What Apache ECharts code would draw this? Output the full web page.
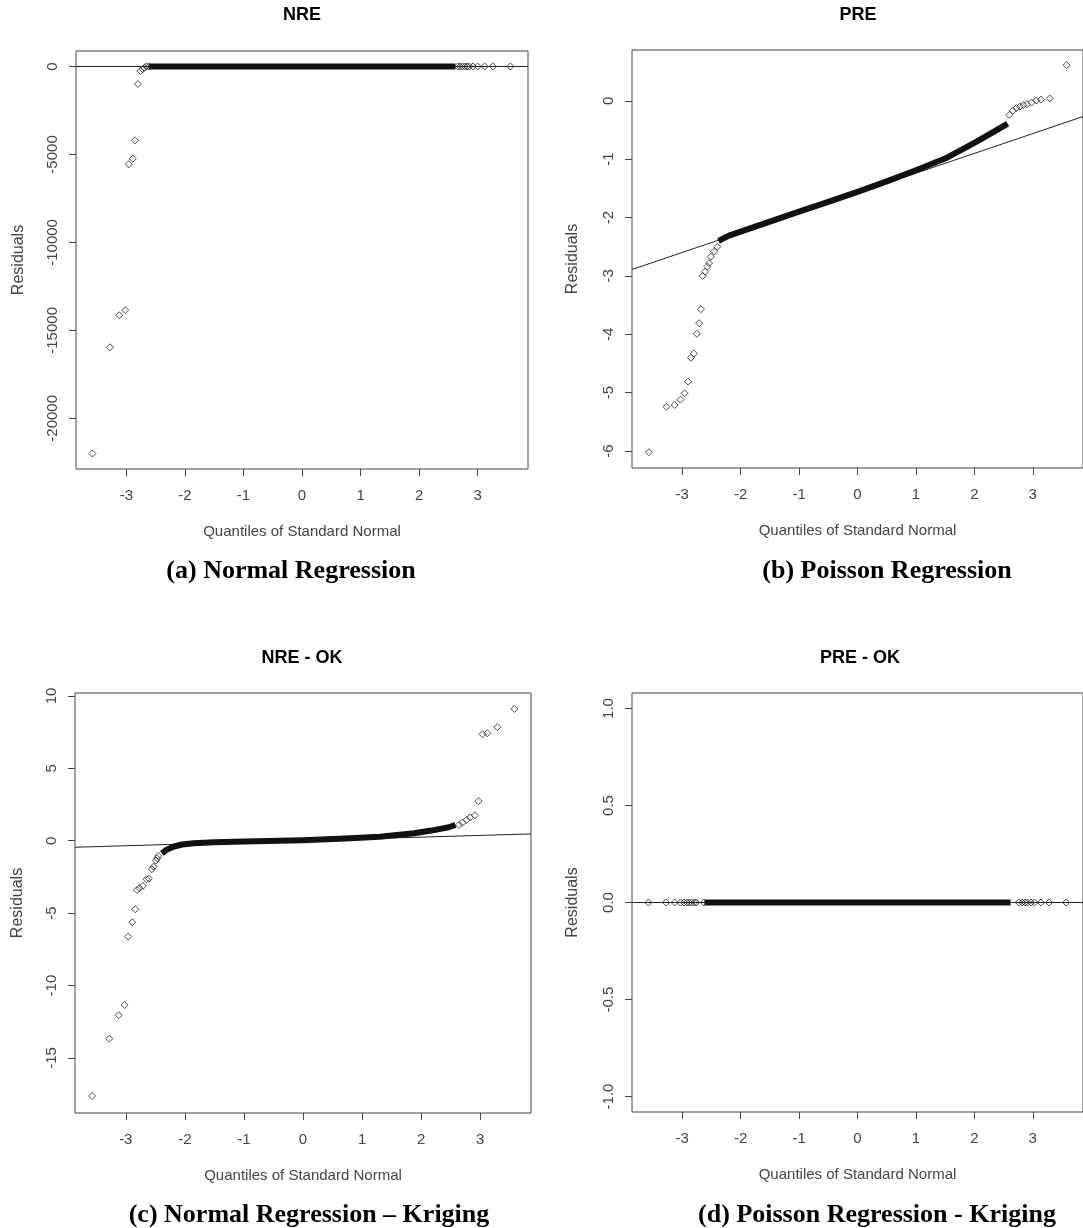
<!DOCTYPE html>
<html>
<head>
<meta charset="utf-8">
<title>Q-Q plots of residuals</title>
<script src="https://cdn.jsdelivr.net/npm/echarts@6/dist/echarts.min.js"></script>
<style>
  html, body { margin: 0; padding: 0; background: #fff; overflow: hidden; }
  #chart { width: 1083px; height: 1228px; }
</style>
</head>
<body>
<div id="chart"></div>
<script>
// (a) NRE - outlying points, dense band, qq reference line
const nreQ = [-3.58, -3.28, -3.12, -3.02, -2.96, -2.89, -2.85, -2.80, -2.76, -2.72, -2.69, -2.66, -2.62,
  2.66, 2.70, 2.74, 2.78, 2.82, 2.86, 2.92, 3.00, 3.12, 3.26, 3.56]
const nreR = [-22000, -15960, -14140, -13850, -5560, -5240, -4200, -1000, -257, -160, -68, 0, 0,
  0, 0, 0, 0, 0, 0, 0, 0, 0, 0, 0]
const nreBandQ = [-2.62, 2.62]
const nreBandR = [0, 0]
const nreLineQ = [-3.86, 3.86]
const nreLineR = [0, 0]

// (b) PRE
const preQ = [-3.57, -3.27, -3.13, -3.03, -2.96, -2.90, -2.85, -2.80, -2.75, -2.71, -2.68, -2.65, -2.61,
  -2.57, -2.54, -2.51, -2.45, -2.40, 2.60, 2.66, 2.72, 2.78, 2.84, 2.90, 2.98, 3.06, 3.14, 3.29, 3.58]
const preR = [-6.02, -5.24, -5.21, -5.12, -5.01, -4.81, -4.40, -4.33, -3.99, -3.81, -3.57, -3.00, -2.93,
  -2.84, -2.78, -2.67, -2.58, -2.50, -0.24, -0.17, -0.125, -0.10, -0.075, -0.057, -0.03, 0.005, 0.02, 0.04, 0.61]
const preBandQ = [-2.38, -2.2, -2.0, -1.5, -1.0, -0.5, 0, 0.5, 1.0, 1.5, 2.0, 2.3, 2.57]
const preBandR = [-2.40, -2.31, -2.24, -2.07, -1.90, -1.73, -1.56, -1.38, -1.19, -0.99, -0.72, -0.55, -0.39]
const preLineQ = [-3.86, 3.86]
const preLineR = [-2.89, -0.27]

// (c) NRE - OK
const nreOkQ = [-3.57, -3.28, -3.12, -3.02, -2.96, -2.89, -2.84, -2.81, -2.77, -2.71, -2.65, -2.61, -2.56,
  -2.53, -2.49, -2.47, -2.45, 2.64, 2.70, 2.77, 2.83, 2.91, 2.97, 3.04, 3.12, 3.29, 3.58]
const nreOkR = [-17.62, -13.67, -12.05, -11.34, -6.62, -5.63, -4.73, -3.40, -3.28, -3.12, -2.66, -2.62, -1.97,
  -1.79, -1.37, -1.21, -1.05, 1.09, 1.25, 1.44, 1.61, 1.76, 2.73, 7.35, 7.42, 7.84, 9.10]
const nreOkBandQ = [-2.39, -2.30, -2.18, -2.05, -1.85, -1.5, -1.0, 0, 0.71, 1.30, 1.88, 2.17, 2.47, 2.58]
const nreOkBandR = [-0.87, -0.60, -0.40, -0.26, -0.17, -0.11, -0.06, 0.03, 0.15, 0.28, 0.52, 0.70, 0.93, 1.09]
const nreOkLineQ = [-3.86, 3.86]
const nreOkLineR = [-0.45, 0.47]

// (d) PRE - OK
const preOkQ = [-3.58, -3.28, -3.13, -3.03, -2.97, -2.92, -2.88, -2.84, -2.79, -2.76, -2.63,
  2.76, 2.82, 2.87, 2.91, 2.97, 3.03, 3.14, 3.28, 3.57]
const preOkR = [0, 0, 0, 0, 0, 0, 0, 0, 0, 0, 0, 0, 0, 0, 0, 0, 0, 0, 0, 0]
const preOkBandQ = [-2.62, 2.62]
const preOkBandR = [0, 0]
const preOkLineQ = [-3.86, 3.86]
const preOkLineR = [0, 0]

// axis ticks
const qTicks = [-3, -2, -1, 0, 1, 2, 3]
const nreTicks = [-20000, -15000, -10000, -5000, 0]
const preTicks = [-6, -5, -4, -3, -2, -1, 0]
const nreOkTicks = [-15, -10, -5, 0, 5, 10]
const preOkTicks = [-1, -0.5, 0, 0.5, 1]

const titles = ['NRE', 'PRE', 'NRE - OK', 'PRE - OK']
const captions = ['(a) Normal Regression', '(b) Poisson Regression',
  '(c) Normal Regression \u2013 Kriging', '(d) Poisson Regression - Kriging']

const zip = (a, b) => a.map((v, i) => [v, b[i]])

const SANS = '"Liberation Sans", Arial, Helvetica, sans-serif'
const SERIF = '"Liberation Serif", "Times New Roman", serif'
const INK = '#444'

const panels = [
  { grid: { left: 76, top: 51, width: 452, height: 418 }, yRange: [-22880, 880], yTicks: nreTicks,
    fmt: v => String(v), pts: zip(nreQ, nreR), band: zip(nreBandQ, nreBandR), line: zip(nreLineQ, nreLineR),
    titleAt: [302, 15], capAt: [291, 571], nameGap: 49 },
  { grid: { left: 632, top: 50, width: 456, height: 418 }, yRange: [-6.29, 0.87], yTicks: preTicks,
    fmt: v => String(v), pts: zip(preQ, preR), band: zip(preBandQ, preBandR), line: zip(preLineQ, preLineR),
    titleAt: [858, 15], capAt: [887, 571], nameGap: 51 },
  { grid: { left: 75, top: 693, width: 456, height: 420 }, yRange: [-18.8, 10.2], yTicks: nreOkTicks,
    fmt: v => String(v), pts: zip(nreOkQ, nreOkR), band: zip(nreOkBandQ, nreOkBandR), line: zip(nreOkLineQ, nreOkLineR),
    titleAt: [302, 658], capAt: [309, 1215], nameGap: 49 },
  { grid: { left: 632, top: 693, width: 456, height: 419 }, yRange: [-1.08, 1.08], yTicks: preOkTicks,
    fmt: v => v.toFixed(1), pts: zip(preOkQ, preOkR), band: zip(preOkBandQ, preOkBandR), line: zip(preOkLineQ, preOkLineR),
    titleAt: [860, 658], capAt: [877, 1215], nameGap: 51 }
]

const textStyle = { color: INK, fontSize: 15, fontFamily: SANS }

const option = {
  animation: false,
  backgroundColor: '#fff',
  grid: panels.map(p => ({ ...p.grid, show: true, borderColor: INK, borderWidth: 1, backgroundColor: 'transparent' })),
  xAxis: panels.map((p, i) => ({
    gridIndex: i,
    type: 'value',
    min: -3.86,
    max: 3.86,
    splitLine: { show: false },
    axisLine: { show: false, onZero: false },
    axisTick: { show: true, length: 7, lineStyle: { color: INK }, customValues: qTicks },
    axisLabel: { ...textStyle, margin: 19, customValues: qTicks },
    name: 'Quantiles of Standard Normal',
    nameLocation: 'middle',
    nameGap: 55,
    nameTextStyle: textStyle
  })),
  yAxis: panels.map((p, i) => ({
    gridIndex: i,
    type: 'value',
    min: p.yRange[0],
    max: p.yRange[1],
    splitLine: { show: false },
    axisLine: { show: false, onZero: false },
    axisTick: { show: true, length: 7, lineStyle: { color: INK }, customValues: p.yTicks },
    axisLabel: {
      ...textStyle, margin: 16, rotate: 90, align: 'center', verticalAlign: 'bottom',
      customValues: p.yTicks, formatter: p.fmt
    },
    name: 'Residuals',
    nameLocation: 'middle',
    nameGap: p.nameGap,
    nameTextStyle: { ...textStyle, fontSize: 16 }
  })),
  series: panels.flatMap((p, i) => [
    {
      type: 'line', xAxisIndex: i, yAxisIndex: i, data: p.line, symbol: 'none', silent: true,
      lineStyle: { color: '#222', width: 1 }, z: 2
    },
    {
      type: 'line', xAxisIndex: i, yAxisIndex: i, data: p.band, symbol: 'none', silent: true,
      lineStyle: { color: '#111', width: 6, join: 'round' }, z: 3
    },
    {
      type: 'scatter', xAxisIndex: i, yAxisIndex: i, data: p.pts, symbol: 'diamond', symbolSize: 7,
      itemStyle: { color: 'rgba(0,0,0,0)', borderColor: '#222', borderWidth: 1 }, z: 4
    }
  ]),
  graphic: panels.flatMap((p, i) => [
    {
      type: 'text', x: p.titleAt[0], y: p.titleAt[1],
      style: { text: titles[i], font: 'bold 18px ' + SANS, fill: '#000',
        align: 'center', verticalAlign: 'middle', textAlign: 'center', textVerticalAlign: 'middle' }
    },
    {
      type: 'text', x: p.capAt[0], y: p.capAt[1],
      style: { text: captions[i], font: 'bold 26px ' + SERIF, fill: '#000',
        align: 'center', verticalAlign: 'middle', textAlign: 'center', textVerticalAlign: 'middle' }
    }
  ])
}

const chart = echarts.init(document.getElementById('chart'))
chart.setOption(option)
</script>
</body>
</html>
